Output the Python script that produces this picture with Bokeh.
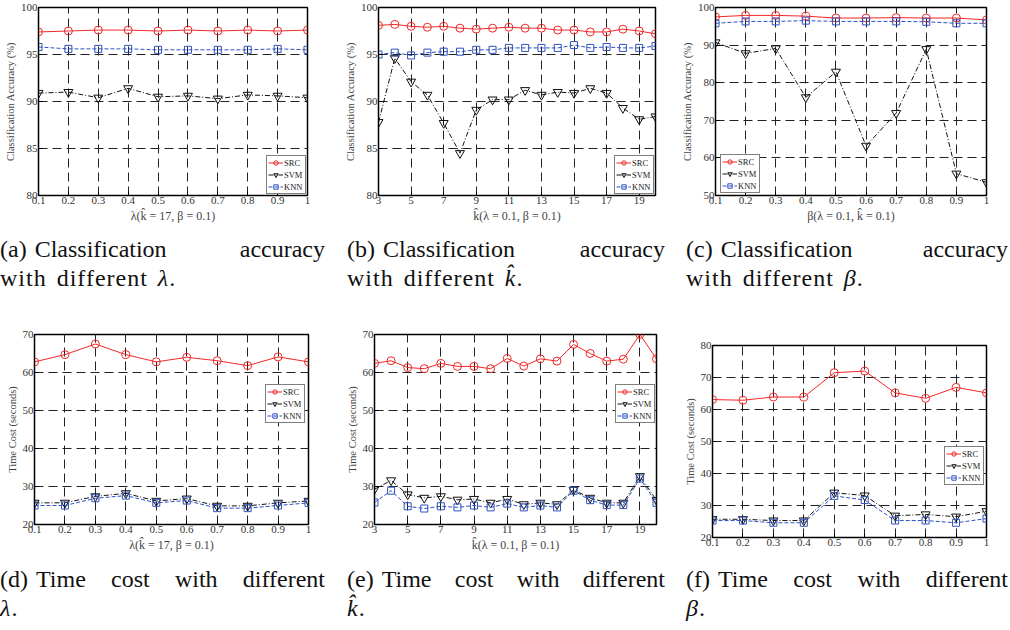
from bokeh.plotting import figure
from bokeh.models import Range1d, FixedTicker, Legend, LegendItem, Div, CustomJSTickFormatter, Spacer
from bokeh.layouts import column, row
from bokeh.embed import file_html
from bokeh.resources import INLINE

# ---------------- data ----------------
lam = [0.1, 0.2, 0.3, 0.4, 0.5, 0.6, 0.7, 0.8, 0.9, 1.0]
k_hat = [3, 4, 5, 6, 7, 8, 9, 10, 11, 12, 13, 14, 15, 16, 17, 18, 19, 20]
beta = [0.1, 0.2, 0.3, 0.4, 0.5, 0.6, 0.7, 0.8, 0.9, 1.0]

frac_ticks = [0.1, 0.2, 0.3, 0.4, 0.5, 0.6, 0.7, 0.8, 0.9, 1.0]
k_ticks = [3, 5, 7, 9, 11, 13, 15, 17, 19]
acc_ticks_80 = [80, 85, 90, 95, 100]
acc_ticks_50 = [50, 60, 70, 80, 90, 100]
time_ticks_70 = [20, 30, 40, 50, 60, 70]
time_ticks_80 = [20, 30, 40, 50, 60, 70, 80]

# (a) accuracy vs lambda
acc_lam_src = [97.4, 97.5, 97.6, 97.6, 97.5, 97.6, 97.5, 97.6, 97.5, 97.6]
acc_lam_svm = [90.9, 91.0, 90.4, 91.4, 90.5, 90.6, 90.3, 90.7, 90.6, 90.4]
acc_lam_knn = [95.8, 95.6, 95.6, 95.6, 95.5, 95.5, 95.5, 95.5, 95.6, 95.5]

# (b) accuracy vs k_hat
acc_k_src = [98.1, 98.2, 98.0, 97.9, 98.0, 97.8, 97.7, 97.8, 97.9, 97.8, 97.8, 97.6,
             97.6, 97.4, 97.4, 97.7, 97.5, 97.2]
acc_k_svm = [87.8, 94.6, 92.1, 90.7, 87.7, 84.5, 89.1, 90.2, 90.2, 91.2, 90.7, 91.0,
             90.9, 91.4, 90.9, 89.3, 88.1, 88.4]
acc_k_knn = [95.0, 95.2, 94.9, 95.2, 95.3, 95.3, 95.5, 95.5, 95.7, 95.7, 95.7, 95.7,
             96.0, 95.7, 95.8, 95.7, 95.7, 95.9]

# (c) accuracy vs beta
acc_beta_src = [97.5, 97.9, 97.9, 97.7, 97.2, 97.2, 97.3, 97.2, 97.2, 96.7]
acc_beta_svm = [90.7, 87.8, 89.1, 76.1, 82.9, 63.2, 71.9, 88.9, 55.8, 53.5]
acc_beta_knn = [95.8, 96.3, 96.3, 96.5, 96.3, 96.3, 96.3, 96.2, 95.8, 95.8]

# (d) time vs lambda
time_lam_src = [62.8, 64.7, 67.5, 64.7, 62.8, 64.0, 63.1, 61.8, 64.1, 62.8]
time_lam_svm = [25.7, 25.7, 27.4, 28.2, 26.2, 26.8, 24.9, 24.9, 25.7, 26.2]
time_lam_knn = [25.0, 25.0, 26.9, 27.6, 25.7, 26.3, 24.3, 24.3, 25.0, 25.7]

# (e) time vs k_hat
time_k_src = [62.4, 63.1, 61.3, 61.0, 62.4, 61.6, 61.6, 61.0, 63.7, 61.7, 63.6, 63.0,
              67.4, 65.0, 63.0, 63.5, 70.0, 63.6]
time_k_svm = [29.3, 31.6, 27.9, 27.0, 27.4, 26.5, 26.7, 25.7, 26.7, 25.3, 25.7, 25.3,
              29.1, 27.0, 25.7, 25.7, 32.7, 26.4]
time_k_knn = [25.8, 28.9, 24.8, 24.2, 24.8, 24.5, 25.0, 24.5, 25.5, 24.5, 25.0, 24.5,
              28.9, 26.4, 25.1, 25.1, 32.1, 25.7]

# (f) time vs beta
time_beta_src = [63.1, 62.9, 63.9, 63.9, 71.5, 72.0, 65.2, 63.5, 66.9, 65.2]
time_beta_svm = [25.7, 25.7, 25.3, 25.3, 34.0, 33.1, 26.8, 27.2, 26.5, 28.2]
time_beta_knn = [25.3, 25.3, 24.6, 24.6, 33.0, 31.7, 25.3, 25.3, 24.6, 25.9]

series_names = ["SRC", "SVM", "KNN"]
acc_label = "Classification Accuracy (%)"
time_label = "Time Cost (seconds)"
xlab_lam = "\u03bb(k\u0302 = 17, \u03b2 = 0.1)"
xlab_k = "k\u0302(\u03bb = 0.1, \u03b2 = 0.1)"
xlab_beta = "\u03b2(\u03bb = 0.1, k\u0302 = 0.1)"

captions = [
    ("(a)", "Classification accuracy", "with different <i>\u03bb</i>."),
    ("(b)", "Classification accuracy", "with different <i>k\u0302</i>."),
    ("(c)", "Classification accuracy", "with different <i>\u03b2</i>."),
    ("(d)", "Time cost with different", "<i>\u03bb</i>."),
    ("(e)", "Time cost with different", "<i>k\u0302</i>."),
    ("(f)", "Time cost with different", "<i>\u03b2</i>."),
]

# ---------------- styles ----------------
SERIF = "Liberation Serif"
RED = "#f02828"
BLACK = "#111111"
BLUE = "#2f52c0"
styles = [
    dict(color=RED, dash="solid", marker="circle", size=8),
    dict(color=BLACK, dash="5 2 1 2", marker="inverted_triangle", size=9),
    dict(color=BLUE, dash="4 2", marker="square", size=7),
]

frac_fmt = CustomJSTickFormatter(code="return (Math.abs(tick-1)<1e-9) ? '1' : tick.toFixed(1);")


def panel(x, ys, xr, yr, xticks, yticks, ylabel, xlabel, size, borders, leg_loc, frac):
    w, h = size
    bl, br, bt, bb = borders
    p = figure(width=w, height=h, output_backend="svg", toolbar_location=None,
               x_range=Range1d(*xr), y_range=Range1d(*yr),
               min_border_left=bl, min_border_right=br, min_border_top=bt, min_border_bottom=bb)
    p.background_fill_color = "white"
    p.border_fill_color = "white"
    p.outline_line_color = "black"
    p.outline_line_width = 1.5
    p.xaxis.ticker = FixedTicker(ticks=xticks)
    p.yaxis.ticker = FixedTicker(ticks=yticks)
    if frac:
        p.xaxis.formatter = frac_fmt
    for ax in (p.xaxis, p.yaxis):
        ax.major_tick_in = 4
        ax.major_tick_out = 0
        ax.minor_tick_line_color = None
        ax.axis_line_color = "black"
        ax.major_tick_line_color = "black"
        ax.major_label_text_font = SERIF
        ax.major_label_text_font_size = "11px"
        ax.major_label_text_color = "#333333"
        ax.major_label_standoff = 1
        ax.axis_label_text_font = SERIF
        ax.axis_label_text_font_style = "normal"
        ax.axis_label_text_color = "#444444"
        ax.axis_label_standoff = 2
    p.yaxis.axis_label_text_font_size = "10.5px"
    p.xaxis.axis_label_text_font_size = "12px"
    p.yaxis.axis_label = ylabel
    if xlabel:
        p.xaxis.axis_label = xlabel
    for g in (p.xgrid, p.ygrid):
        g.grid_line_color = "#222222"
        g.grid_line_dash = "9 5"
        g.grid_line_width = 1
        g.grid_line_alpha = 1.0
    items = []
    for name, yv, st in zip(series_names, ys, styles):
        lr = p.line(x, yv, line_color=st["color"], line_dash=st["dash"], line_width=1)
        sr = p.scatter(x, yv, marker=st["marker"], size=st["size"], line_color=st["color"],
                       fill_color=None, line_width=1)
        items.append(LegendItem(label=name, renderers=[lr, sr]))
    lg = Legend(items=items, location=leg_loc)
    lg.label_text_font = SERIF
    lg.label_text_font_size = "8.5px"
    lg.label_text_color = "#222222"
    lg.label_height = 11
    lg.glyph_height = 11
    lg.glyph_width = 15
    lg.label_standoff = 1
    lg.spacing = 1
    lg.padding = 1
    lg.margin = 1
    lg.border_line_color = "black"
    lg.border_line_width = 1
    lg.background_fill_color = "white"
    lg.background_fill_alpha = 1
    p.add_layout(lg)
    return p


pa = panel(lam, [acc_lam_src, acc_lam_svm, acc_lam_knn], (0.1, 1.0), (80, 100), frac_ticks,
           acc_ticks_80, acc_label, xlab_lam, (340, 228), (38, 33, 7, 33), "bottom_right", True)
pb = panel(k_hat, [acc_k_src, acc_k_svm, acc_k_knn], (3, 20), (80, 100), k_ticks,
           acc_ticks_80, acc_label, xlab_k, (338, 228), (38, 23, 7, 33), "bottom_right", False)
pc = panel(beta, [acc_beta_src, acc_beta_svm, acc_beta_knn], (0.1, 1.0), (50, 100), frac_ticks,
           acc_ticks_50, acc_label, xlab_beta, (330, 228), (36, 22, 7, 33), (5, 2), True)
pd = panel(lam, [time_lam_src, time_lam_svm, time_lam_knn], (0.1, 1.0), (20, 70), frac_ticks,
           time_ticks_70, time_label, xlab_lam, (340, 260), (34, 32, 38, 32), (231, 101), True)
pe = panel(k_hat, [time_k_src, time_k_svm, time_k_knn], (3, 20), (20, 70), k_ticks,
           time_ticks_70, time_label, xlab_k, (338, 260), (34, 22, 37, 32), (241, 101), False)
pf = panel(beta, [time_beta_src, time_beta_svm, time_beta_knn], (0.1, 1.0), (20, 80), frac_ticks,
           time_ticks_80, time_label, None, (330, 249), (34, 22, 38, 19), (232, 52), True)


def caption_div(idx, width, height, left, text_w, pad_top):
    tag, l1, l2 = captions[idx]
    words = "".join(f"<span>{wd}</span>" for wd in l1.split(" "))
    html = (
        f'<div style="font-family:\'{SERIF}\';font-size:24px;line-height:29px;color:#111;'
        f'padding-top:{pad_top}px;margin-left:{left}px;width:{text_w}px;">'
        f'<div style="white-space:nowrap;display:flex;">'
        f'<span style="margin-right:8px;">{tag}</span>'
        f'<div style="flex:1;display:flex;justify-content:space-between;">{words}</div></div>'
        f'<div style="white-space:nowrap;letter-spacing:1px;word-spacing:3px;">{l2}</div></div>'
    )
    return Div(text=html, width=width, height=height, margin=(0, 0, 0, 0))


cap_row1 = row(caption_div(0, 340, 68, 0, 325, 7),
               caption_div(1, 338, 68, 7, 318, 7),
               caption_div(2, 330, 68, 8, 322, 7), spacing=0)
cap_row2 = row(caption_div(3, 340, 72, 0, 325, 9),
               caption_div(4, 338, 72, 7, 318, 9),
               caption_div(5, 330, 72, 8, 322, 9), spacing=0)

layout = column(row(pa, pb, pc, spacing=0), cap_row1,
                row(pd, pe, column(Spacer(width=330, height=11), pf, spacing=0), spacing=0),
                cap_row2, spacing=0)

open("out.html", "w").write(file_html(layout, INLINE))
